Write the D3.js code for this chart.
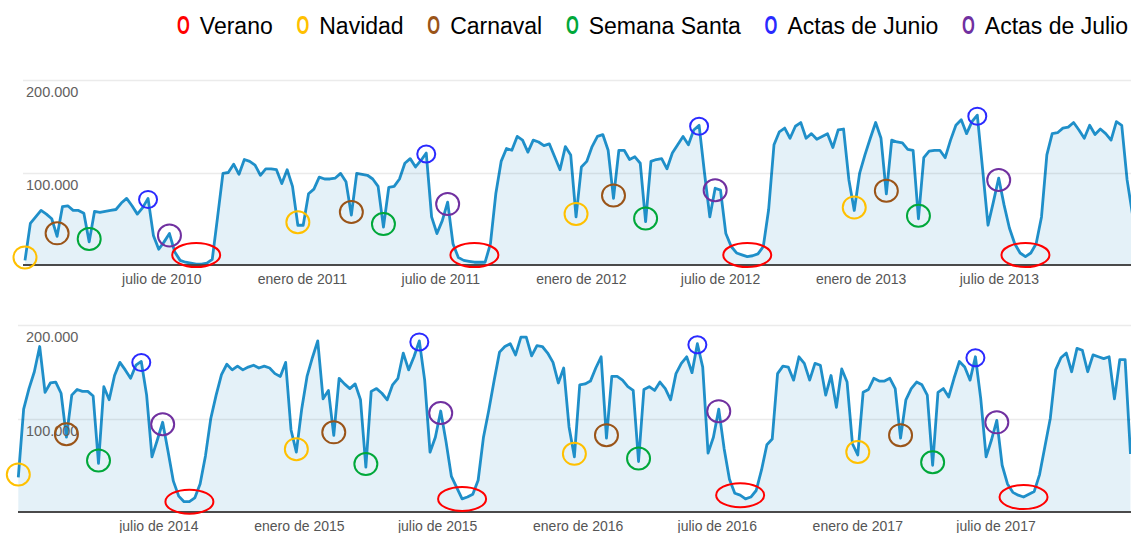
<!DOCTYPE html>
<html lang="es">

<head>
    <meta charset="utf-8"/>
    <script src="https://d3js.org/d3.v7.min.js"></script>
    <style>
        body { margin: 0; background: #fff; }
        svg text { font-family: "Liberation Sans", Arial, sans-serif; }
    </style>
</head>
<body>

<script>
    // Weekly visits (thousands), one value per week
    var visitas2010 = [
        5, 45, 52, 59, 55, 50, 31, 63, 64, 59,
        59, 56, 25, 58, 57, 58, 59, 60, 67, 72,
        64, 55, 62, 72, 32, 17, 25, 34, 14, 5,
        3, 2, 1, 1, 2, 6, 52, 99, 100, 109,
        98, 114, 112, 108, 97, 104, 104, 103, 88, 103,
        85, 43, 43, 77, 82, 95, 93, 93, 94, 99,
        90, 54, 99, 98, 97, 93, 85, 41, 84, 85,
        93, 110, 115, 106, 113, 121, 52, 34, 48, 68,
        23, 8, 5, 4, 3, 3, 3, 23, 77, 112,
        126, 124, 139, 135, 122, 135, 133, 129, 131, 117,
        103, 128, 119, 52, 106, 112, 128, 139, 141, 124,
        72, 124, 124, 114, 117, 110, 47, 112, 114, 115,
        104, 121, 130, 139, 130, 146, 151, 100, 52, 83,
        81, 34, 20, 13, 11, 9, 10, 12, 20, 60,
        130, 144, 148, 137, 150, 154, 137, 142, 136, 139,
        142, 127, 146, 147, 92, 59, 99, 119, 137, 154,
        137, 77, 135, 133, 132, 125, 124, 50, 116, 123,
        124, 124, 116, 135, 151, 157, 142, 155, 162, 103,
        43, 68, 94, 65, 40, 23, 13, 9, 13, 23,
        52, 119, 142, 143, 148, 149, 154, 146, 137, 151,
        141, 147, 142, 135, 155, 151, 92, 55
    ];
    var visitas2014 = [
        37, 110, 132, 150, 177, 128, 138, 139, 127, 80,
        125, 131, 129, 129, 124, 52, 134, 120, 146, 160,
        152, 143, 157, 161, 125, 59, 77, 96, 65, 33,
        17, 11, 11, 15, 30, 60, 100, 125, 147, 158,
        152, 156, 152, 155, 157, 154, 156, 154, 148, 145,
        160, 88, 64, 110, 145, 165, 183, 121, 130, 82,
        143, 137, 132, 137, 120, 48, 129, 132, 127, 120,
        136, 143, 170, 152, 166, 183, 141, 64, 80, 108,
        75, 38, 26, 14, 16, 19, 34, 80, 109, 141,
        171, 177, 180, 168, 187, 187, 167, 178, 177, 170,
        160, 138, 154, 91, 59, 136, 137, 140, 154, 166,
        79, 145, 145, 141, 134, 130, 54, 131, 134, 130,
        139, 132, 120, 148, 159, 166, 149, 180, 155, 63,
        80, 110, 68, 35, 20, 18, 14, 16, 23, 45,
        72, 78, 148, 156, 155, 141, 166, 159, 141, 159,
        157, 125, 146, 112, 153, 139, 73, 61, 128, 131,
        143, 140, 140, 143, 132, 79, 120, 132, 139, 136,
        125, 50, 128, 132, 123, 143, 161, 155, 141, 166,
        121, 59, 77, 98, 50, 30, 21, 18, 16, 19,
        22, 40, 70, 100, 152, 165, 170, 150, 175, 173,
        150, 168, 166, 164, 166, 121, 163, 163, 62
    ];
    var inicio2010 = new Date(2010, 0, 3);
    var inicio2014 = new Date(2013, 11, 29);

    // Axis ticks
    var yTicks = [100, 200];
    var yTickLabels = ["100.000", "200.000"];
    var xTicks2010 = [new Date(2010, 6, 1), new Date(2011, 0, 1), new Date(2011, 6, 1), new Date(2012, 0, 1),
                      new Date(2012, 6, 1), new Date(2013, 0, 1), new Date(2013, 6, 1)];
    var xTicks2014 = [new Date(2014, 6, 1), new Date(2015, 0, 1), new Date(2015, 6, 1), new Date(2016, 0, 1),
                      new Date(2016, 6, 1), new Date(2017, 0, 1), new Date(2017, 6, 1)];

    // Legend
    var leyenda = ["Verano", "Navidad", "Carnaval", "Semana Santa", "Actas de Junio", "Actas de Julio"];
    var leyendaColores = ["#ff0000", "#ffc000", "#9a5418", "#00a83a", "#2a2aff", "#7030a0"];

    // Week index of each marked event, in legend order
    var marcas2010 = [[32, 84, 135, 187], [0, 51, 103, 155], [6, 61, 110, 161],
                      [12, 67, 116, 167], [23, 75, 126, 178], [27, 79, 129, 182]];
    var marcas2014 = [[32, 83, 135, 188], [0, 52, 104, 157], [9, 59, 110, 165],
                      [15, 65, 116, 171], [23, 75, 127, 179], [27, 79, 131, 183]];

    var width = 1131, height = 533;
    var esES = d3.timeFormatLocale({
        dateTime: "%A, %e de %B de %Y, %X", date: "%d/%m/%Y", time: "%H:%M:%S",
        periods: ["AM", "PM"],
        days: ["domingo", "lunes", "martes", "miércoles", "jueves", "viernes", "sábado"],
        shortDays: ["dom", "lun", "mar", "mié", "jue", "vie", "sáb"],
        months: ["enero", "febrero", "marzo", "abril", "mayo", "junio", "julio", "agosto",
                 "septiembre", "octubre", "noviembre", "diciembre"],
        shortMonths: ["ene", "feb", "mar", "abr", "may", "jun", "jul", "ago", "sep", "oct", "nov", "dic"]
    });
    var fmt = esES.format("%B de %Y");

    var svg = d3.select("body")
        .append("svg")
        .attr("width", width)
        .attr("height", height);

    function drawPanel(id, values, start, xTicks, marks, box) {
        var dates = values.map(function(v, i) { return d3.timeDay.offset(start, 7 * i); });
        var data = values.map(function(v, i) { return {date: dates[i], value: v}; });

        var x = d3.scaleTime()
            .domain([dates[0], dates[dates.length - 1]])
            .range([box.left, box.left + box.step * (values.length - 1)]);
        var y = d3.scaleLinear()
            .domain([0, 200])
            .range([box.bottom, box.top]);

        svg.append("clipPath").attr("id", id)
            .append("rect")
            .attr("x", box.left - 3).attr("y", box.top - 5)
            .attr("width", width - box.left + 3).attr("height", box.bottom - box.top + 10);

        var g = svg.append("g");
        var plot = g.append("g").attr("clip-path", "url(#" + id + ")");

        plot.append("path")
            .datum(data)
            .attr("fill", "#e4f1f8")
            .attr("d", d3.area()
                .x(function(d) { return x(d.date); })
                .y0(y(0))
                .y1(function(d) { return y(d.value); }));

        // gridlines sit above the fill
        g.selectAll("line.grid")
            .data(yTicks)
            .enter()
            .append("line")
            .attr("x1", box.gridLeft).attr("x2", width)
            .attr("y1", function(d) { return Math.round(y(d)) + 0.5; })
            .attr("y2", function(d) { return Math.round(y(d)) + 0.5; })
            .style("stroke", "rgba(0,0,0,0.08)")
            .style("stroke-width", 1.5);

        plot.append("path")
            .datum(data)
            .attr("fill", "none")
            .attr("stroke", "#1f8fc9")
            .attr("stroke-width", 2.8)
            .attr("stroke-linejoin", "round")
            .attr("d", d3.line()
                .x(function(d) { return x(d.date); })
                .y(function(d) { return y(d.value); }));

        g.append("line")
            .attr("x1", box.gridLeft).attr("x2", width)
            .attr("y1", y(0)).attr("y2", y(0))
            .style("stroke", "#4a4a4a")
            .style("stroke-width", 1.8);

        g.selectAll("text.ylab")
            .data(yTicks)
            .enter()
            .append("text")
            .attr("x", 26)
            .attr("y", function(d) { return y(d) + 17; })
            .attr("fill", "#62605e")
            .style("font-size", "14.5px")
            .text(function(d, i) { return yTickLabels[i]; });

        g.selectAll("text.xlab")
            .data(xTicks)
            .enter()
            .append("text")
            .attr("x", function(d) { return x(d); })
            .attr("y", y(0) + 19)
            .attr("text-anchor", "middle")
            .attr("fill", "#555")
            .style("font-size", "14px")
            .text(function(d) { return fmt(d); });

        // event marks
        marks.forEach(function(list, k) {
            list.forEach(function(i) {
                var cx = x(dates[i]);
                var cy = y(values[i]);
                var m;
                if (k === 0) {
                    m = g.append("ellipse")
                        .attr("cx", cx).attr("cy", Math.min(cy, y(0) - 10))
                        .attr("rx", 24).attr("ry", 12);
                } else if (k === 4) {
                    m = g.append("ellipse")
                        .attr("cx", cx).attr("cy", cy + 1)
                        .attr("rx", 9).attr("ry", 8.5);
                } else if (k === 5) {
                    m = g.append("ellipse")
                        .attr("cx", cx).attr("cy", cy + 2)
                        .attr("rx", 11.5).attr("ry", 11);
                } else {
                    m = g.append("ellipse")
                        .attr("cx", cx).attr("cy", cy - 3)
                        .attr("rx", 11.5).attr("ry", 11);
                }
                m.attr("fill", "none")
                    .attr("stroke", leyendaColores[k])
                    .attr("stroke-width", 2);
            });
        });
    }

    drawPanel("clip1", visitas2010, inicio2010, xTicks2010, marcas2010,
        {left: 25, gridLeft: 23, step: 5.35, top: 80, bottom: 265});
    drawPanel("clip2", visitas2014, inicio2014, xTicks2014, marcas2014,
        {left: 18.3, gridLeft: 18, step: 5.347, top: 325, bottom: 512});

    // Legend across the top right
    var legend = svg.append("g");
    var items = [];
    var oScale = 0.66;
    leyenda.forEach(function(name, k) {
        var o = legend.append("text")
            .attr("fill", leyendaColores[k])
            .style("font-size", "25px")
            .style("font-weight", "bold")
            .text("O");
        var t = legend.append("text")
            .attr("y", 34)
            .attr("fill", "#000")
            .style("font-size", "23px")
            .text(name);
        items.push({o: o, t: t, ow: o.node().getComputedTextLength() * oScale, tw: t.node().getComputedTextLength()});
    });
    var legLeft = 177, legRight = 1128, innerGap = 10;
    var used = d3.sum(items, function(d) { return d.ow + innerGap + d.tw; });
    var gap = (legRight - legLeft - used) / (items.length - 1);
    var cursor = legLeft;
    items.forEach(function(d) {
        d.o.attr("transform", "translate(" + cursor + ",34) scale(" + oScale + ",1)");
        cursor += d.ow + innerGap;
        d.t.attr("x", cursor);
        cursor += d.tw + gap;
    });
</script>
</body>
</html>
